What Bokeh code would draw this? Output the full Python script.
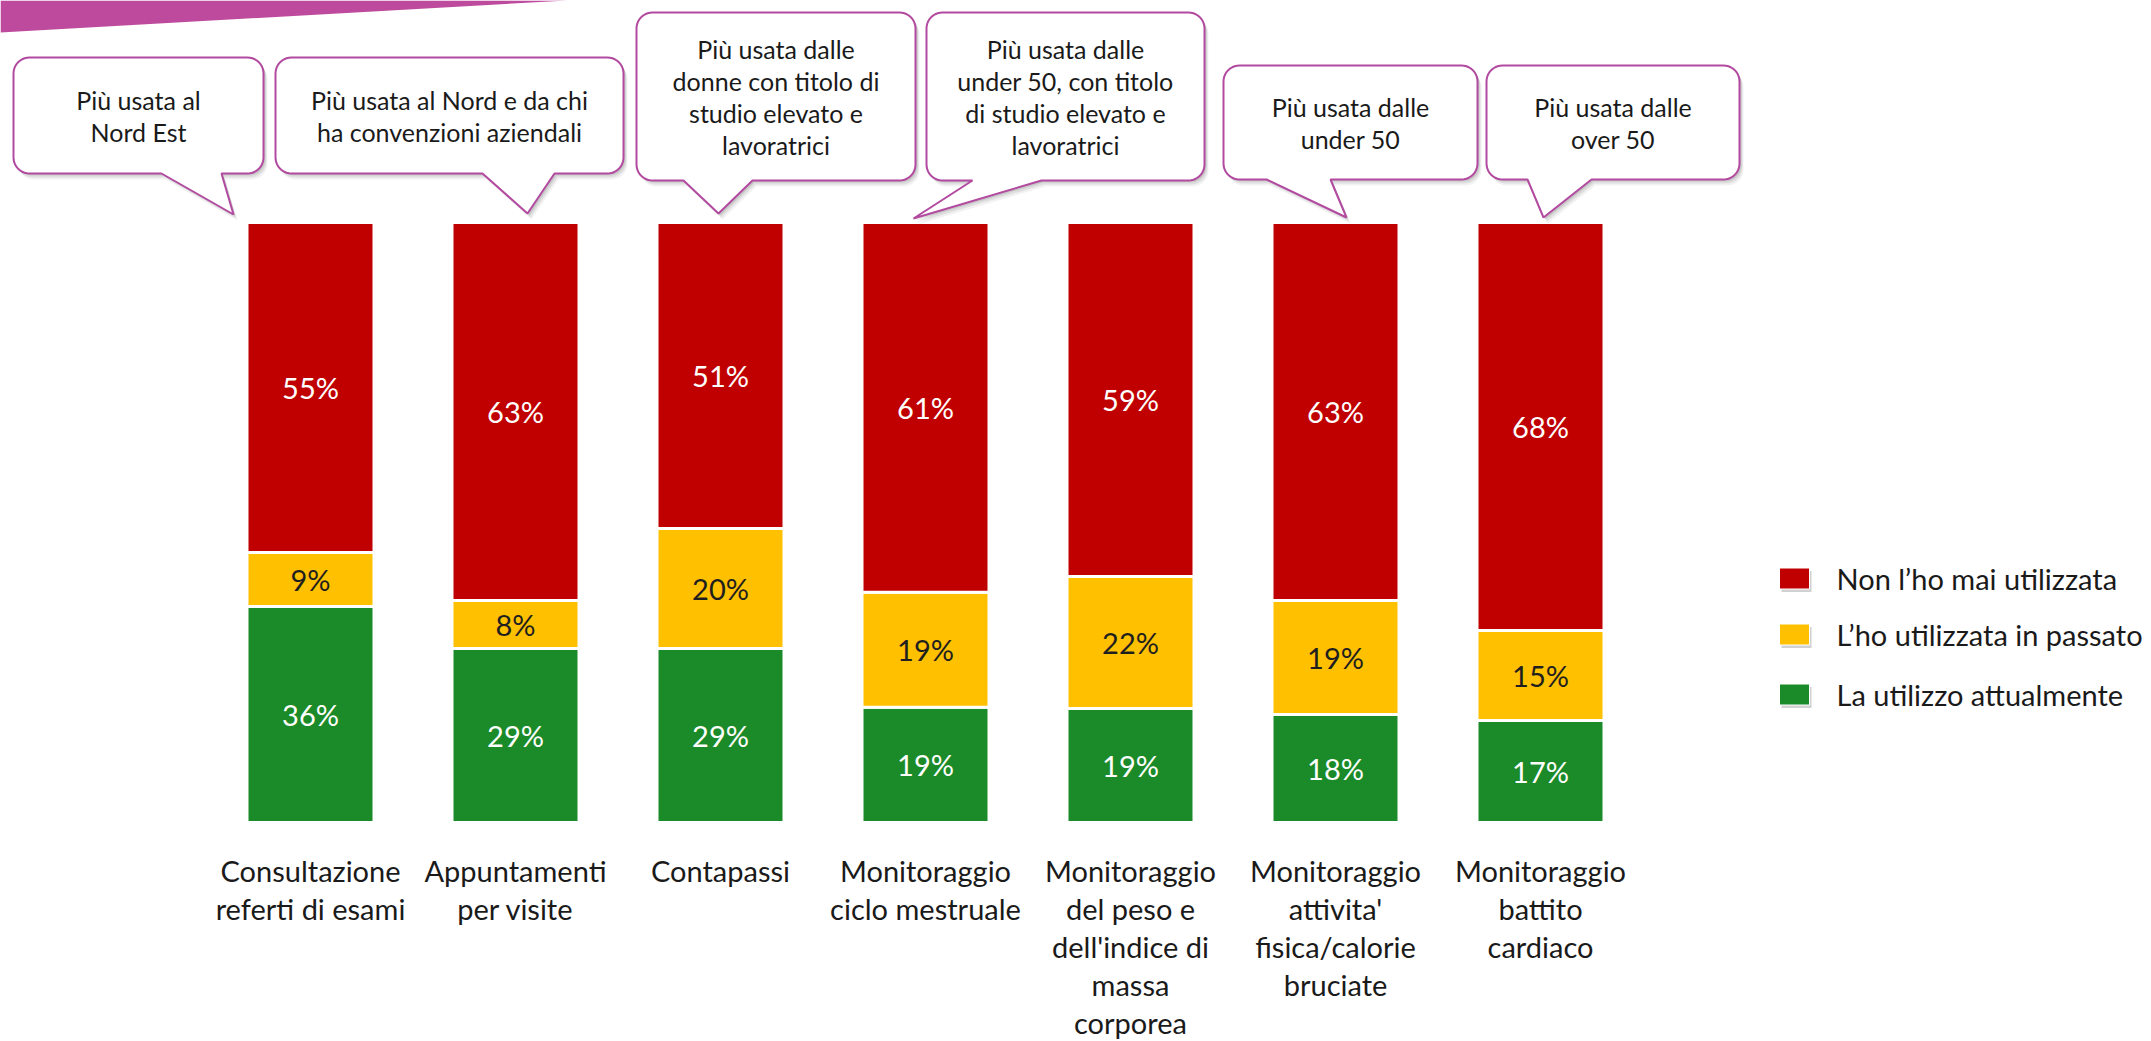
import math
from bokeh.plotting import figure
from bokeh.models import Range1d, ColumnDataSource
from bokeh.core.properties import value
from bokeh.embed import file_html
from bokeh.resources import INLINE

# ---------------- data ----------------
categories = [
    "Consultazione referti di esami",
    "Appuntamenti per visite",
    "Contapassi",
    "Monitoraggio ciclo mestruale",
    "Monitoraggio del peso e dell'indice di massa corporea",
    "Monitoraggio attivita' fisica/calorie bruciate",
    "Monitoraggio battito cardiaco",
]
category_lines = [
    ["Consultazione", "referti di esami"],
    ["Appuntamenti", "per visite"],
    ["Contapassi"],
    ["Monitoraggio", "ciclo mestruale"],
    ["Monitoraggio", "del peso e", "dell'indice di", "massa", "corporea"],
    ["Monitoraggio", "attivita'", "fisica/calorie", "bruciate"],
    ["Monitoraggio", "battito", "cardiaco"],
]
attualmente = [36, 29, 29, 19, 19, 18, 17]   # La utilizzo attualmente
passato = [9, 8, 20, 19, 22, 19, 15]         # L'ho utilizzata in passato
mai = [55, 63, 51, 61, 59, 63, 68]           # Non l'ho mai utilizzata
legend_labels = ["Non l\u2019ho mai utilizzata", "L\u2019ho utilizzata in passato", "La utilizzo attualmente"]

callout_texts = [
    ["Più usata al", "Nord Est"],
    ["Più usata al Nord e da chi", "ha convenzioni aziendali"],
    ["Più usata dalle", "donne con titolo di", "studio elevato e", "lavoratrici"],
    ["Più usata dalle", "under 50, con titolo", "di studio elevato e", "lavoratrici"],
    ["Più usata dalle", "under 50"],
    ["Più usata dalle", "over 50"],
]

# ---------------- styles / layout ----------------
RED, YELLOW, GREEN = "#C00000", "#FFC000", "#1B8A28"
PURPLE = "#BE4A9E"
BORDER = "#B24AA0"
FONT = "Lato"

W, H = 2151, 1041
OX, OY = 0, 0
PX_PER_BAR = 205
BAR0_PX = 310
BASE_PX = 822
PX_PER_PCT = 6.0


def X(px):
    return (px - BAR0_PX) / PX_PER_BAR


def Y(py):
    return (BASE_PX - py) / PX_PER_PCT


p = figure(width=W, height=H,
           x_range=Range1d(X(OX), X(OX + W)),
           y_range=Range1d(Y(OY + H), Y(OY)),
           output_backend="svg", toolbar_location=None, min_border=0)
p.axis.visible = False
p.grid.visible = False
p.outline_line_color = None
p.background_fill_color = "white"
p.border_fill_color = "white"

# purple header band
p.patch([X(0), X(567), X(0)], [Y(0), Y(0), Y(32)], color=PURPLE, line_color=None)

# ---------------- stacked bars (100%) ----------------
n = len(categories)
tot = [attualmente[i] + passato[i] + mai[i] for i in range(n)]
s_att = [attualmente[i] / tot[i] * 100 for i in range(n)]
s_pas = [passato[i] / tot[i] * 100 for i in range(n)]
s_mai = [mai[i] / tot[i] * 100 for i in range(n)]
src = ColumnDataSource(dict(x=list(range(n)), att=s_att, pas=s_pas, mai=s_mai))
p.vbar_stack(["att", "pas", "mai"], x="x", width=127 / PX_PER_BAR,
             color=[GREEN, YELLOW, RED], line_color="white", line_width=3, source=src)

# value labels
lx, ly, lt, lc = [], [], [], []
for i in range(n):
    c0 = 0
    for share, raw, col in ((s_att[i], attualmente[i], "white"),
                            (s_pas[i], passato[i], "#1F1F1F"),
                            (s_mai[i], mai[i], "white")):
        lx.append(i)
        ly.append(c0 + share / 2)
        lt.append(f"{raw}%")
        lc.append(col)
        c0 += share
p.text(x=lx, y=ly, text=lt, text_color=lc, text_align="center", text_baseline="middle",
       text_font=value(FONT), text_font_size="29px")

# category labels
cx, cy, ct = [], [], []
for i, lines in enumerate(category_lines):
    for k, line in enumerate(lines):
        cx.append(i)
        cy.append(Y(870 + 38 * k))
        ct.append(line)
p.text(x=cx, y=cy, text=ct, text_color="#1A1A1A", text_align="center", text_baseline="middle",
       text_font=value(FONT), text_font_size="29px")

# ---------------- legend ----------------
leg_y = [578, 634, 694]
leg_cols = [RED, YELLOW, GREEN]
sq_w, sq_h = 30 / PX_PER_BAR, 21 / PX_PER_PCT
p.rect(x=[X(1796)] * 3, y=[Y(v + 3) for v in leg_y], width=sq_w, height=sq_h,
       fill_color="black", fill_alpha=0.18, line_color=None)
p.rect(x=[X(1794)] * 3, y=[Y(v) for v in leg_y], width=sq_w, height=sq_h,
       fill_color=leg_cols, line_color="white", line_width=1)
p.text(x=[X(1836)] * 3, y=[Y(v) for v in leg_y], text=legend_labels, text_color="#1A1A1A",
       text_align="left", text_baseline="middle", text_font=value(FONT), text_font_size="29px")

# ---------------- callouts ----------------
# (box x0, y0, x1, y1, tail left, tail right, tip x, tip y) in page pixels
callout_geom = [
    (13, 57, 263, 173, 161, 221, 233, 214),
    (275, 57, 623, 173, 482, 554, 527, 213),
    (636, 12, 915, 180, 683, 752, 718, 213),
    (926, 12, 1204, 180, 972, 1041, 913, 218),
    (1223, 65, 1477, 179, 1266, 1330, 1346, 217),
    (1486, 65, 1739, 179, 1527, 1591, 1543, 217),
]


def bubble(g, dx=0, dy=0, r=16):
    x0, y0, x1, y1, tl, tr, tx, ty = g
    pts = []

    def arc(cxp, cyp, a0, a1):
        for j in range(11):
            a = math.radians(a0 + (a1 - a0) * j / 10)
            pts.append((cxp + r * math.cos(a), cyp + r * math.sin(a)))

    arc(x1 - r, y0 + r, -90, 0)
    arc(x1 - r, y1 - r, 0, 90)
    pts.append((tr, y1))
    pts.append((tx, ty))
    pts.append((tl, y1))
    arc(x0 + r, y1 - r, 90, 180)
    arc(x0 + r, y0 + r, 180, 270)
    return [X(a + dx) for a, _ in pts], [Y(b + dy) for _, b in pts]


for dx, dy, al in ((4, 6, 0.05), (3, 4, 0.08), (2, 2, 0.10)):
    xs, ys = zip(*[bubble(g, dx, dy) for g in callout_geom])
    p.patches(list(xs), list(ys), fill_color="black", fill_alpha=al, line_color=None)
xs, ys = zip(*[bubble(g) for g in callout_geom])
p.patches(list(xs), list(ys), fill_color="white", line_color=BORDER, line_width=2)

tx_, ty_, tt_ = [], [], []
for g, lines in zip(callout_geom, callout_texts):
    x0, y0, x1, y1 = g[:4]
    mid = (y0 + y1) / 2
    nl = len(lines)
    for k, line in enumerate(lines):
        tx_.append(X((x0 + x1) / 2))
        ty_.append(Y(mid + (k - (nl - 1) / 2) * 32))
        tt_.append(line)
p.text(x=tx_, y=ty_, text=tt_, text_color="#1A1A1A", text_align="center", text_baseline="middle",
       text_font=value(FONT), text_font_size="25px")

open("out.html", "w").write(file_html(p, INLINE))
